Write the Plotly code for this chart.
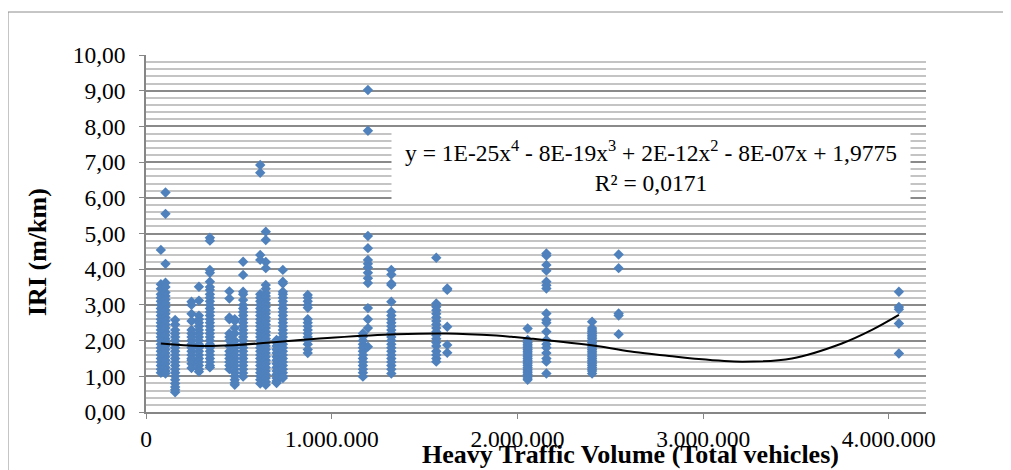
import numpy as np
import plotly.graph_objects as go

# ---- data ----
traffic_volume = [80000, 105000, 157000, 245000, 285000, 344000, 449000, 478000,
                  523000, 615000, 645000, 703000, 737000, 871000, 1168000, 1195000,
                  1321000, 1563000, 1622000, 2055000, 2156000, 2402000, 2545000, 4054000]

iri_080k = [4.54, 3.58, 3.45, 3.3, 3.2, 3.1, 3.0, 2.9, 2.8, 2.7, 2.6, 2.5, 2.4, 2.3, 2.2, 2.1,
            2.0, 1.9, 1.8, 1.7, 1.6, 1.5, 1.4, 1.3, 1.2, 1.1]
iri_105k = [6.15, 5.55, 4.15, 3.62, 3.5, 3.35, 3.25, 3.15, 3.05, 2.95, 2.85, 2.75, 2.65, 2.55,
            2.45, 2.35, 2.25, 2.15, 2.05, 1.95, 1.85, 1.75, 1.65, 1.55, 1.45, 1.35, 1.25, 1.15, 1.08]
iri_157k = [2.58, 2.45, 2.3, 2.2, 2.1, 2.0, 1.9, 1.8, 1.7, 1.6, 1.5, 1.4, 1.3, 1.2, 1.1, 1.0,
            0.9, 0.8, 0.7, 0.62, 0.55]
iri_245k = [3.09, 3.0, 2.75, 2.55, 2.3, 2.2, 2.1, 2.0, 1.9, 1.8, 1.7, 1.6, 1.5, 1.45, 1.35, 1.23]
iri_285k = [3.51, 3.12, 2.7, 2.6, 2.5, 2.4, 2.3, 2.2, 2.1, 2.0, 1.9, 1.8, 1.7, 1.6, 1.5, 1.4,
            1.3, 1.2, 1.13]
iri_344k = [4.88, 4.8, 3.98, 3.9, 3.65, 3.5, 3.42, 3.3, 3.2, 3.1, 3.0, 2.9, 2.8, 2.7, 2.6, 2.5,
            2.4, 2.3, 2.2, 2.1, 2.0, 1.9, 1.8, 1.7, 1.6, 1.5, 1.4, 1.3, 1.25]
iri_449k = [3.38, 3.18, 2.65, 2.6, 2.2, 2.1, 2.0, 1.85, 1.7, 1.6, 1.5, 1.4, 1.3, 1.2]
iri_478k = [2.6, 2.55, 2.35, 2.2, 2.0, 1.9, 1.8, 1.7, 1.6, 1.5, 1.4, 1.3, 1.2, 1.1, 1.0, 0.9,
            0.82, 0.76]
iri_523k = [4.21, 3.84, 3.37, 3.3, 3.14, 3.0, 2.9, 2.8, 2.7, 2.6, 2.5, 2.4, 2.3, 2.2, 2.1, 2.0,
            1.9, 1.8, 1.7, 1.6, 1.5, 1.4, 1.3, 1.2, 1.09, 0.99]
iri_615k = [6.92, 6.70, 4.4, 4.26, 3.3, 3.2, 3.1, 3.0, 2.9, 2.8, 2.7, 2.6, 2.5, 2.4, 2.3, 2.2,
            2.1, 2.0, 1.9, 1.8, 1.7, 1.6, 1.5, 1.4, 1.3, 1.2, 1.1, 1.0, 0.9, 0.8]
iri_645k = [5.05, 4.82, 4.2, 4.03, 3.56, 3.45, 3.33, 3.25, 3.15, 3.05, 2.95, 2.85, 2.75, 2.65,
            2.55, 2.45, 2.35, 2.25, 2.15, 2.05, 1.95, 1.85, 1.75, 1.65, 1.55, 1.45, 1.35, 1.25,
            1.15, 1.05, 0.95, 0.85, 0.76]
iri_703k = [2.02, 1.95, 1.85, 1.75, 1.65, 1.55, 1.45, 1.35, 1.25, 1.15, 1.05, 0.95, 0.87, 0.81]
iri_737k = [3.98, 3.65, 3.6, 3.37, 3.3, 3.2, 3.1, 3.0, 2.9, 2.8, 2.7, 2.6, 2.5, 2.4, 2.3, 2.2,
            2.1, 2.0, 1.9, 1.8, 1.7, 1.6, 1.5, 1.4, 1.3, 1.2, 1.1, 1.0, 0.95]
iri_871k = [3.28, 3.2, 3.1, 3.0, 2.92, 2.6, 2.5, 2.4, 2.3, 2.2, 2.1, 2.0, 1.9, 1.75, 1.65]
iri_1168k = [2.2, 2.11, 2.0, 1.9, 1.8, 1.7, 1.6, 1.5, 1.4, 1.3, 1.2, 1.1, 0.99]
iri_1195k = [9.02, 7.88, 4.93, 4.59, 4.26, 4.15, 4.05, 3.9, 3.75, 3.61, 2.91, 2.6, 2.35, 1.83]
iri_1321k = [3.98, 3.85, 3.6, 3.56, 3.09, 2.81, 2.7, 2.6, 2.5, 2.4, 2.3, 2.2, 2.1, 2.0, 1.9,
             1.8, 1.7, 1.6, 1.5, 1.4, 1.3, 1.2, 1.08]
iri_1563k = [4.32, 3.04, 2.95, 2.85, 2.75, 2.65, 2.55, 2.45, 2.35, 2.25, 2.15, 2.05, 1.95,
             1.85, 1.7, 1.6, 1.5, 1.41]
iri_1622k = [3.46, 3.42, 2.39, 1.88, 1.66]
iri_2055k = [2.34, 2.02, 1.95, 1.9, 1.85, 1.8, 1.75, 1.7, 1.65, 1.6, 1.55, 1.5, 1.45, 1.4, 1.35,
             1.3, 1.25, 1.2, 1.15, 1.1, 1.05, 1.0, 0.95, 0.9]
iri_2156k = [4.44, 4.38, 4.12, 3.96, 3.65, 3.55, 3.46, 2.76, 2.58, 2.5, 2.25, 2.02, 1.9, 1.8,
             1.65, 1.5, 1.41, 1.08]
iri_2402k = [2.53, 2.35, 2.3, 2.25, 2.2, 2.15, 2.1, 2.05, 2.0, 1.95, 1.9, 1.85, 1.8, 1.75, 1.7,
             1.65, 1.6, 1.55, 1.5, 1.45, 1.4, 1.35, 1.3, 1.25, 1.2, 1.15, 1.08]
iri_2545k = [4.41, 4.03, 2.76, 2.7, 2.18]
iri_4054k = [3.37, 2.94, 2.88, 2.48, 1.64]

iri_groups = [iri_080k, iri_105k, iri_157k, iri_245k, iri_285k, iri_344k, iri_449k, iri_478k,
              iri_523k, iri_615k, iri_645k, iri_703k, iri_737k, iri_871k, iri_1168k, iri_1195k,
              iri_1321k, iri_1563k, iri_1622k, iri_2055k, iri_2156k, iri_2402k, iri_2545k,
              iri_4054k]

# polynomial (order 4) trendline
trend_x = [80000, 290000, 470000, 650000, 830000, 1016000, 1348000, 1618000, 1887000,
           1984000, 2065000, 2425000, 2629000, 2817000, 2941000, 3210000, 3478000, 3747000,
           3909000, 4054000]
trend_y = [1.92, 1.85, 1.87, 1.94, 2.02, 2.09, 2.18, 2.20, 2.14, 2.10, 2.06, 1.85, 1.68,
           1.57, 1.50, 1.41, 1.50, 1.92, 2.30, 2.72]

y_ticks = [0, 1, 2, 3, 4, 5, 6, 7, 8, 9, 10]
x_ticks = [0, 1000000, 2000000, 3000000, 4000000]
equation_text = ("y = 1E-25x<sup>4</sup> - 8E-19x<sup>3</sup> + 2E-12x<sup>2</sup> - 8E-07x + 1,9775"
                 "<br>R² = 0,0171")
x_title = "Heavy Traffic Volume (Total vehicles)"
y_title = "IRI (m/km)"

# ---- build ----
xs, ys = [], []
for xv, grp in zip(traffic_volume, iri_groups):
    xs += [xv] * len(grp)
    ys += grp

FONT = "'Times New Roman', 'Liberation Serif', serif"
OFF = 8                       # page margin of the browser around the figure
W, H = 1011 - OFF, 470 - OFF
L, R, T, B = 138, 85, 47, 58
pw, ph = W - L - R, H - T - B

def px_x(p):                  # screenshot pixel -> paper fraction
    return (p - OFF - L) / pw

def px_y(p):
    return (H - B - (p - OFF)) / ph

fig = go.Figure()
fig.add_trace(go.Scatter(x=xs, y=ys, mode="markers",
                         marker=dict(symbol="diamond", size=8, color="#4F81BD",
                                     line=dict(width=0)),
                         showlegend=False, hoverinfo="skip"))
fig.add_trace(go.Scatter(x=trend_x, y=trend_y, mode="lines",
                         line=dict(color="black", width=2, shape="spline", smoothing=1.0),
                         showlegend=False, hoverinfo="skip"))

fig.update_layout(
    width=W, height=H,
    margin=dict(l=L, r=R, t=T, b=B),
    paper_bgcolor="white", plot_bgcolor="white",
    separators=",.",
    font=dict(family=FONT, size=23, color="black"),
    xaxis=dict(range=[0, 4200000], tickvals=x_ticks, tickformat=",d",
               showgrid=False, zeroline=False, showline=True, linecolor="#868686",
               linewidth=1.5, ticks="outside", ticklen=5, tickcolor="#868686",
               tickfont=dict(size=23.5, family=FONT), ticklabelstandoff=0),
    yaxis=dict(range=[0, 10], tickvals=y_ticks, tickformat=".2f",
               showgrid=True, gridcolor="#8a8a8a", gridwidth=1.5,
               zeroline=False, showline=True, linecolor="#868686", linewidth=1.5,
               ticks="outside", ticklen=5, tickcolor="#868686",
               tickfont=dict(size=23.5, family=FONT), ticklabelstandoff=9,
               minor=dict(dtick=0.2, showgrid=True, gridcolor="#c4c4c4", gridwidth=1.5)),
)

# outer chart border (extends past the right and bottom edges)
fig.add_shape(type="rect", xref="paper", yref="paper",
              x0=px_x(8), x1=px_x(1030), y0=px_y(490), y1=px_y(12),
              line=dict(color="#8c8c8c", width=1), fillcolor="rgba(0,0,0,0)", layer="above")

# trendline equation box
fig.add_annotation(xref="paper", yref="paper", x=px_x(651), y=px_y(165.5),
                   xanchor="center", yanchor="middle", showarrow=False,
                   text=equation_text, align="center", bgcolor="white",
                   width=516, height=64, font=dict(size=23.5, family=FONT))

# axis titles
fig.add_annotation(xref="paper", yref="paper", x=px_x(37), y=px_y(252),
                   xanchor="center", yanchor="middle", showarrow=False, textangle=-90,
                   text="<b>" + y_title + "</b>", font=dict(size=26, family=FONT))
fig.add_annotation(xref="paper", yref="paper", x=px_x(630), y=px_y(454),
                   xanchor="center", yanchor="middle", showarrow=False,
                   text="<b>" + x_title + "</b>", font=dict(size=26, family=FONT))

fig.write_html("out.html")
